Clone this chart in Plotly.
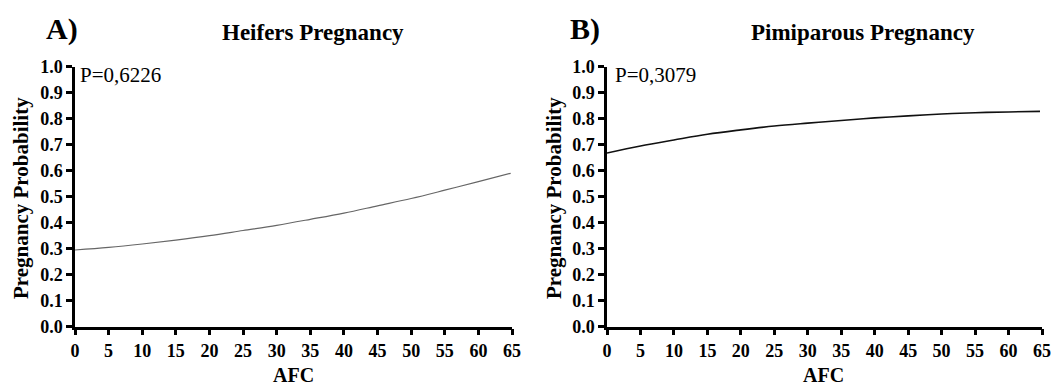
import plotly.graph_objects as go

# Data
afc_a = [0, 5, 10, 15, 20, 25, 30, 35, 40, 45, 50, 55, 60, 64.8]
prob_a = [0.295, 0.305, 0.318, 0.333, 0.350, 0.370, 0.390, 0.413, 0.437, 0.465, 0.493, 0.525, 0.558, 0.590]

afc_b = [0, 5, 10, 15, 20, 25, 30, 35, 40, 45, 50, 55, 60, 64.7]
prob_b = [0.668, 0.695, 0.718, 0.740, 0.757, 0.772, 0.783, 0.793, 0.803, 0.811, 0.818, 0.823, 0.826, 0.828]

x_ticks = list(range(0, 70, 5))
y_ticks = [round(i * 0.1, 1) for i in range(11)]

OFF = 8  # page body margin
W, H = 1064 - OFF, 387 - OFF
FONT = "Times New Roman, Liberation Serif, serif"

fig = go.Figure()
fig.add_trace(go.Scatter(x=afc_a, y=prob_a, mode="lines", line=dict(color="#666666", width=1.2, shape="spline"),
                         xaxis="x", yaxis="y", showlegend=False))
fig.add_trace(go.Scatter(x=afc_b, y=prob_b, mode="lines", line=dict(color="#111111", width=1.6, shape="spline"),
                         xaxis="x2", yaxis="y2", showlegend=False))

def px(x):
    return (x - OFF) / W

def py(y):
    return 1 - (y - OFF) / H

ydom = [py(326.7), py(66.7)]

def xa(dom, anchor):
    return dict(domain=dom, anchor=anchor, range=[0, 65], tickvals=x_ticks, automargin=False,
                showline=True, linecolor="black", linewidth=2.5, ticks="outside",
                ticklen=6, tickwidth=2.5, tickcolor="black", showgrid=False, zeroline=False,
                tickfont=dict(family=FONT, size=18, color="black", weight="bold"))

def ya(anchor):
    return dict(domain=ydom, anchor=anchor, range=[0, 1], tickvals=y_ticks, tickformat=".1f",
                automargin=False,
                showline=True, linecolor="black", linewidth=2.5, ticks="outside",
                ticklen=6, tickwidth=2.5, tickcolor="black", showgrid=False, zeroline=False,
                tickfont=dict(family=FONT, size=18, color="black", weight="bold"))

fig.update_layout(
    width=W, height=H,
    margin=dict(l=0, r=0, t=0, b=0),
    paper_bgcolor="white", plot_bgcolor="white",
    xaxis=xa([px(75), px(512)], "y"),
    yaxis=ya("x"),
    xaxis2=xa([px(607), px(1042)], "y2"),
    yaxis2=ya("x2"),
)

def ann(text, x, y, size, bold=True, xanchor="center", angle=0):
    fig.add_annotation(text=text, x=px(x), y=py(y), xref="paper", yref="paper",
                       showarrow=False, xanchor=xanchor, yanchor="middle", textangle=angle,
                       font=dict(family=FONT, size=size, color="black",
                                 weight="bold" if bold else "normal"))

ann("A)", 62, 29, 30)
ann("Heifers Pregnancy", 313, 32, 23)
ann("B)", 585, 29, 30)
ann("Pimiparous Pregnancy", 863, 32, 23)
ann("P=0,6226", 78, 75, 21, bold=False, xanchor="left")
ann("P=0,3079", 613, 75, 21, bold=False, xanchor="left")
ann("AFC", 293, 375, 20)
ann("AFC", 823, 375, 20)
ann("Pregnancy Probability", 21, 198, 21, angle=-90)
ann("Pregnancy Probability", 554, 198, 21, angle=-90)

fig.write_html("out.html")
